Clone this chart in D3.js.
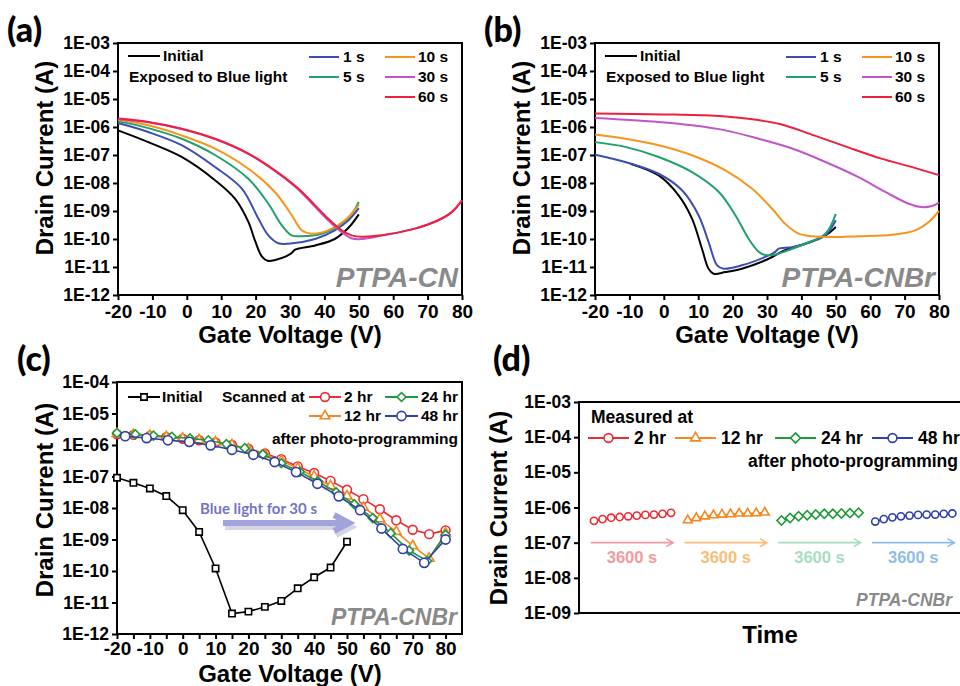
<!DOCTYPE html>
<html lang="en">
<head>
  <meta charset="UTF-8">
  <title>Drain current panels</title>
  <script src="https://cdn.jsdelivr.net/npm/d3@7"></script>
  <style>
    body{ margin:0; background:#fff; }
    text{ font-family:"Liberation Sans", Arial, sans-serif; font-weight:bold; }
    .axis text{ font-size:17.5px; font-family:"Liberation Sans", Arial, sans-serif; font-weight:bold; fill:#000; }
    .xaxis text{ font-size:19px; }
    .axis line{ stroke:#000; stroke-width:2; }
    .lab{ font-family:Lato, "Open Sans", sans-serif; font-size:34px; font-weight:900; }
    .title{ font-size:24px; }
    .leg{ font-size:15.5px; }
    .tag{ font-style:italic; fill:#8a8a8a; }
  </style>
</head>
<body>
  <script>
    // gate sweep data, [gate voltage, log10 drain current]
    const aInitial = [[-20,-6.12],[-11.2,-6.54],[-1.5,-7.07],[8.2,-7.9],[14,-8.56],[17.9,-9.39],[19.8,-10.05],[21.8,-10.62],[23.5,-10.78],[27.6,-10.68],[30.5,-10.5],[31.5,-10.38],[37.3,-10.23],[43,-10.0],[47,-9.6],[50,-9.12]];
    const a1s = [[-20,-5.86],[-11.2,-6.18],[-1.5,-6.65],[8.2,-7.43],[16,-8.2],[20.8,-9.27],[23.7,-9.87],[26.6,-10.15],[29.5,-10.17],[37.3,-10.0],[43,-9.69],[47,-9.33],[50,-8.9]];
    const a5s = [[-20,-5.79],[-11.2,-6.04],[-1.5,-6.42],[8.2,-7.0],[17.9,-7.85],[23.7,-8.74],[27.6,-9.51],[30.5,-9.87],[33.4,-9.9],[39.2,-9.81],[45,-9.45],[48,-9.1],[50,-8.68]];
    const a10s = [[-20,-5.74],[-11.2,-5.94],[-1.5,-6.3],[8.2,-6.77],[17.9,-7.49],[25.6,-8.32],[30.5,-9.15],[33.4,-9.69],[36.3,-9.81],[41.1,-9.69],[46,-9.33],[50,-8.78]];
    const a30s = [[-20,-5.72],[-11.2,-5.83],[-1.5,-6.07],[8.2,-6.43],[17.9,-6.96],[25.6,-7.57],[32.4,-8.23],[37.3,-8.85],[41.1,-9.33],[45,-9.75],[48,-9.98],[51,-10.0],[56.6,-9.88],[66.3,-9.63],[73.1,-9.33],[77,-9.04],[80,-8.62]];
    const a60s = [[-20,-5.70],[-11.2,-5.82],[-1.5,-6.06],[8.2,-6.42],[17.9,-6.95],[25.6,-7.55],[32.4,-8.2],[37.3,-8.8],[41.1,-9.27],[45,-9.69],[47.9,-9.87],[50.8,-9.92],[56.6,-9.87],[66.3,-9.63],[73.1,-9.33],[77,-9.04],[80,-8.62]];

    const bInitial = [[-9.7,-7.31],[-1.5,-7.73],[4.3,-8.44],[8.2,-9.27],[11.1,-10.35],[13,-11.06],[14.5,-11.24],[17.9,-11.18],[22.7,-11.06],[29.5,-10.76],[35.3,-10.4],[41.1,-10.17],[47,-9.87],[50,-9.57]];
    const b1s = [[-20,-6.99],[-11.2,-7.25],[-1.5,-7.67],[5.3,-8.26],[10.1,-9.15],[13,-10.1],[15.5,-10.94],[17.4,-11.06],[22.7,-10.94],[29.5,-10.64],[32.4,-10.46],[33.3,-10.35],[37.3,-10.29],[43,-10.1],[47,-9.87],[50,-9.33]];
    const b5s = [[-20,-6.54],[-11.2,-6.71],[-1.5,-7.07],[8.2,-7.61],[16,-8.32],[20.8,-9.15],[24.7,-10.0],[27.6,-10.46],[29.5,-10.57],[31.9,-10.57],[35.3,-10.44],[41.1,-10.17],[47,-9.81],[50,-9.1]];
    const b10s = [[-20,-6.27],[-11.2,-6.42],[-1.5,-6.65],[8.2,-7.01],[17.9,-7.55],[25.6,-8.2],[31.5,-8.92],[35.3,-9.46],[39.2,-9.81],[43,-9.9],[48.9,-9.93],[56.6,-9.9],[66.3,-9.85],[73.1,-9.69],[77,-9.39],[80,-9.0]];
    const b30s = [[-20,-5.68],[-1.5,-5.82],[8.2,-5.94],[17.9,-6.12],[27.6,-6.42],[37.3,-6.77],[47,-7.25],[56.6,-7.79],[64.4,-8.32],[71.2,-8.74],[75,-8.86],[78,-8.82],[80,-8.7]];
    const b60s = [[-20,-5.52],[0,-5.55],[14.7,-5.6],[24,-5.7],[34,-5.9],[43.7,-6.3],[53.4,-6.72],[63,-7.12],[72.7,-7.45],[80,-7.72]];

    // retention sweeps (c)
    const cInitialV = [-20,-15,-10,-5,0,5,10,15,20,25,30,35,40,45,50];
    const cInitial = [-7.04,-7.2,-7.38,-7.62,-8.07,-8.76,-9.92,-11.35,-11.29,-11.14,-10.95,-10.55,-10.2,-9.89,-9.07];
    const cStep5V = [-20,-15,-10,-5,0,5,10,15,20,25,30,35,40,45,50,55,60,65,70,75,80];
    const c2hr = [-5.66,-5.68,-5.71,-5.75,-5.8,-5.85,-5.92,-6.0,-6.12,-6.27,-6.45,-6.68,-6.89,-7.14,-7.42,-7.72,-8.04,-8.39,-8.69,-8.83,-8.71];
    const c12hr = [-5.64,-5.67,-5.7,-5.74,-5.79,-5.84,-5.91,-6.0,-6.13,-6.3,-6.5,-6.74,-7.0,-7.3,-7.62,-7.98,-8.35,-8.75,-9.2,-9.6,-8.8];
    const c24hrV = [-20,-14.4,-8.9,-3.3,2.2,7.8,13.3,18.9,24.4,30,35.6,41.1,46.7,52.2,57.8,63.3,68.9,74.4,80];
    const c24hr = [-5.62,-5.66,-5.7,-5.74,-5.79,-5.85,-5.97,-6.1,-6.3,-6.58,-6.85,-7.15,-7.5,-7.88,-8.32,-8.8,-9.35,-9.68,-8.85];
    const c48hrV = [-17.5,-11,-4.5,2,8.5,15,21.5,28,34.5,41,47.5,54,60.5,67,73.5,80];
    const c48hr = [-5.72,-5.78,-5.85,-5.9,-6.01,-6.15,-6.31,-6.54,-6.86,-7.23,-7.63,-8.07,-8.65,-9.3,-9.74,-9.0];

    // retention in time (d): seconds within each 3600 s window, and where each window sits
    const dTime = [0,400,800,1200,1600,2000,2400,2800,3200,3600];
    const dWindowStart = [700,5080,9460,13840];
    const d2hr = [-6.38,-6.33,-6.29,-6.27,-6.25,-6.23,-6.21,-6.2,-6.18,-6.15];
    const d12hr = [-6.36,-6.3,-6.25,-6.22,-6.2,-6.19,-6.17,-6.17,-6.16,-6.14];
    const d24hr = [-6.37,-6.3,-6.25,-6.22,-6.2,-6.18,-6.18,-6.17,-6.16,-6.15];
    const d48hr = [-6.4,-6.33,-6.28,-6.25,-6.23,-6.21,-6.2,-6.2,-6.18,-6.17];

    const svg = d3.select('body').append('svg').attr('width', 960).attr('height', 686);

    const fmtE = d => {
      const e = Math.round(Math.log10(d));
      return '1E' + (e < 0 ? '-' : '+') + String(Math.abs(e)).padStart(2, '0');
    };

    function panel(p) {
      const x = d3.scaleLinear().domain(p.xDomain).range([p.l, p.r]);
      const y = d3.scaleLog().domain([10 ** p.yExp[0], 10 ** p.yExp[1]]).range([p.b, p.t]);
      const g = svg.append('g');
      g.append('g').attr('class', 'axis').attr('transform', `translate(${p.l},0)`)
        .call(d3.axisLeft(y).tickValues(d3.range(p.yExp[0], p.yExp[1] + 1).map(e => 10 ** e))
          .tickFormat(fmtE).tickSize(5).tickPadding(3))
        .call(a => a.select('.domain').remove());
      if (p.xTicks) {
        g.append('g').attr('class', 'axis xaxis').attr('transform', `translate(0,${p.b})`)
          .call(d3.axisBottom(x).tickValues(p.xTicks).tickFormat(d => d % 10 === 0 ? d : '')
            .tickSize(5).tickPadding(p.xPad || 5))
          .call(a => a.select('.domain').remove());
      }
      g.append('rect').attr('x', p.l).attr('y', p.t)
        .attr('width', p.r - p.l).attr('height', p.b - p.t)
        .attr('fill', 'none').attr('stroke', '#000').attr('stroke-width', 2);
      return { g, x, y };
    }

    function marker(g, type, cx, cy, color, s) {
      if (type === 'circle') {
        return g.append('circle').attr('cx', cx).attr('cy', cy).attr('r', s)
          .attr('fill', '#fff').attr('stroke', color).attr('stroke-width', 1.6);
      }
      const sym = type === 'square' || type === 'diamond' ? d3.symbolSquare : d3.symbolTriangle;
      const rot = type === 'diamond' ? 45 : 0;
      return g.append('path').attr('d', d3.symbol().type(sym).size(s)())
        .attr('transform', `translate(${cx},${cy}) rotate(${rot})`)
        .attr('fill', '#fff').attr('stroke', color).attr('stroke-width', 1.6);
    }

    function legendLine(g, x1, x2, yy, color, text, tx, mtype, msize) {
      g.append('line').attr('x1', x1).attr('x2', x2).attr('y1', yy).attr('y2', yy)
        .attr('stroke', color).attr('stroke-width', 2);
      if (mtype) marker(g, mtype, (x1 + x2) / 2, yy, color, msize);
      g.append('text').attr('class', 'leg').attr('x', tx).attr('y', yy).attr('dy', '0.35em').text(text);
    }

    // ---------- (a) and (b) ----------
    const sweepColors = ['#000000', '#3d4db5', '#1fa06c', '#f7941d', '#c154c6', '#ee1f3f'];
    const sweepNames = ['Initial', '1 s', '5 s', '10 s', '30 s', '60 s'];

    function sweepPanel(l, r, series, tag, label, labX) {
      const P = panel({ l, r, t: 43, b: 295, xDomain: [-20, 80], yExp: [-12, -3], xTicks: d3.range(-20, 81, 10) });
      const line = d3.line().x(d => P.x(d[0])).y(d => P.y(10 ** d[1])).curve(d3.curveCatmullRom.alpha(0.5));
      series.forEach((s, i) => {
        P.g.append('path').attr('d', line(s)).attr('fill', 'none')
          .attr('stroke', sweepColors[i]).attr('stroke-width', 2);
      });
      const lx = l + 10;
      legendLine(P.g, lx, lx + 32, 56, sweepColors[0], sweepNames[0], lx + 35);
      P.g.append('text').attr('class', 'leg').attr('x', lx + 1).attr('y', 77).attr('dy', '0.35em').text('Exposed to Blue light');
      const c1 = l + 191, c2 = l + 267;
      legendLine(P.g, c1, c1 + 30, 57, sweepColors[1], sweepNames[1], c1 + 34);
      legendLine(P.g, c1, c1 + 30, 77, sweepColors[2], sweepNames[2], c1 + 34);
      legendLine(P.g, c2, c2 + 30, 57, sweepColors[3], sweepNames[3], c2 + 33);
      legendLine(P.g, c2, c2 + 30, 77, sweepColors[4], sweepNames[4], c2 + 33);
      legendLine(P.g, c2, c2 + 30, 97, sweepColors[5], sweepNames[5], c2 + 33);
      P.g.append('text').attr('class', 'tag').attr('x', r - 4).attr('y', 287)
        .attr('text-anchor', 'end').style('font-size', '28px').text(tag);
      svg.append('text').attr('class', 'title').attr('x', (l + r) / 2).attr('y', 343)
        .attr('text-anchor', 'middle').text('Gate Voltage (V)');
      svg.append('text').attr('class', 'title')
        .attr('transform', `translate(${l - 65},158) rotate(-90)`)
        .attr('text-anchor', 'middle').text('Drain Current (A)');
      svg.append('text').attr('class', 'lab').attr('x', labX).attr('y', 42).text(label);
    }

    sweepPanel(118, 462, [aInitial, a1s, a5s, a10s, a30s, a60s], 'PTPA-CN', '(a)', 7);
    sweepPanel(595, 939, [bInitial, b1s, b5s, b10s, b30s, b60s], 'PTPA-CNBr', '(b)', 484);

    // ---------- (c) ----------
    const C = panel({ l: 117, r: 462, t: 382, b: 634, xDomain: [-20, 85], yExp: [-12, -4], xTicks: d3.range(-20, 81, 5), xPad: 3 });
    const cLine = d3.line().x(d => C.x(d[0])).y(d => C.y(10 ** d[1]));
    const cSeries = [
      { v: cInitialV, val: cInitial, color: '#000000', type: 'square', size: 40 },
      { v: cStep5V, val: c2hr, color: '#ec2b34', type: 'circle', size: 4.4 },
      { v: cStep5V, val: c12hr, color: '#f4871f', type: 'triangle', size: 40 },
      { v: c24hrV, val: c24hr, color: '#1f9a3a', type: 'diamond', size: 40 },
      { v: c48hrV, val: c48hr, color: '#3140a8', type: 'circle', size: 4.6 }
    ];
    cSeries.forEach(s => {
      const pts = s.v.map((v, i) => [v, s.val[i]]);
      C.g.append('path').attr('d', cLine(pts)).attr('fill', 'none').attr('stroke', s.color).attr('stroke-width', 1.6);
      pts.forEach(d => marker(C.g, s.type, C.x(d[0]), C.y(10 ** d[1]), s.color, s.size));
    });
    legendLine(C.g, 128, 160, 397, '#000000', 'Initial', 162, 'square', 40);
    C.g.append('text').attr('class', 'leg').attr('x', 222).attr('y', 397).attr('dy', '0.35em').text('Scanned at');
    legendLine(C.g, 309, 341, 397, '#ec2b34', '2 hr', 344, 'circle', 4.4);
    legendLine(C.g, 385, 418, 397, '#1f9a3a', '24 hr', 421, 'diamond', 40);
    legendLine(C.g, 309, 341, 416, '#f4871f', '12 hr', 344, 'triangle', 40);
    legendLine(C.g, 385, 418, 416, '#3140a8', '48 hr', 421, 'circle', 4.6);
    C.g.append('text').attr('class', 'leg').attr('x', 458).attr('y', 439).attr('dy', '0.35em')
      .attr('text-anchor', 'end').text('after photo-programming');
    // blue light arrow
    C.g.append('path').attr('d', 'M225,527H349M336,519L351,527L336,535')
      .attr('fill', 'none').attr('stroke', '#d6d6e2').attr('stroke-width', 6);
    C.g.append('path').attr('d', 'M223,523H347M334,515L349,523L334,531')
      .attr('fill', 'none').attr('stroke', '#a3a3dc').attr('stroke-width', 6);
    C.g.append('text').attr('x', 200).attr('y', 514)
      .style('font-family', 'Lato, sans-serif').style('font-size', '15px').style('fill', '#7474c4')
      .text('Blue light for 30 s');
    C.g.append('text').attr('class', 'tag').attr('x', 457).attr('y', 625)
      .attr('text-anchor', 'end').style('font-size', '23px').text('PTPA-CNBr');
    svg.append('text').attr('class', 'title').attr('x', 290).attr('y', 682).attr('text-anchor', 'middle').text('Gate Voltage (V)');
    svg.append('text').attr('class', 'title').attr('transform', 'translate(53,500) rotate(-90)')
      .attr('text-anchor', 'middle').text('Drain Current (A)');
    svg.append('text').attr('class', 'lab').attr('x', 17).attr('y', 371).text('(c)');

    // ---------- (d) ----------
    const D = panel({ l: 579, r: 975, t: 402, b: 613, xDomain: [0, 18500], yExp: [-9, -3] });
    const dSeries = [
      { val: d2hr, color: '#ec2b34', light: '#f29aa0', type: 'circle', size: 3.6 },
      { val: d12hr, color: '#f4871f', light: '#f9bd77', type: 'triangle', size: 34 },
      { val: d24hr, color: '#1f9a3a', light: '#a9dcbf', type: 'diamond', size: 42 },
      { val: d48hr, color: '#3140a8', light: '#8fbde8', type: 'circle', size: 3.6 }
    ];
    const dLine = d3.line().x(d => D.x(d[0])).y(d => D.y(10 ** d[1]));
    dSeries.forEach((s, k) => {
      const t0 = dWindowStart[k];
      const pts = dTime.map((t, i) => [t0 + t, s.val[i]]);
      D.g.append('path').attr('d', dLine(pts)).attr('fill', 'none').attr('stroke', s.color).attr('stroke-width', 1.6);
      pts.forEach(d => marker(D.g, s.type, D.x(d[0]), D.y(10 ** d[1]), s.color, s.size));
      const ax1 = D.x(t0 - 150), ax2 = D.x(t0 + dTime[dTime.length - 1] + 100), ay = D.y(1e-7);
      D.g.append('path').attr('d', `M${ax1},${ay}H${ax2}M${ax2 - 7},${ay - 4}L${ax2},${ay}L${ax2 - 7},${ay + 4}`)
        .attr('fill', 'none').attr('stroke', s.light).attr('stroke-width', 1.6);
      D.g.append('text').attr('x', (ax1 + ax2) / 2).attr('y', ay + 20).attr('text-anchor', 'middle')
        .style('font-size', '16.5px').style('fill', s.light).text('3600 s');
    });
    D.g.append('text').style('font-size', '17.5px').attr('x', 591).attr('y', 417).attr('dy', '0.35em').text('Measured at');
    const dNames = ['2 hr', '12 hr', '24 hr', '48 hr'];
    const dLegX = [588, 675, 775, 872];
    dSeries.forEach((s, k) => {
      const x1 = dLegX[k];
      D.g.append('line').attr('x1', x1).attr('x2', x1 + 41).attr('y1', 438).attr('y2', 438)
        .attr('stroke', s.color).attr('stroke-width', 2);
      marker(D.g, s.type, x1 + 20.5, 438, s.color, s.type === 'circle' ? 4.4 : s.size + 8);
      D.g.append('text').style('font-size', '17.5px').attr('x', x1 + 46).attr('y', 438).attr('dy', '0.35em').text(dNames[k]);
    });
    D.g.append('text').style('font-size', '17.5px').attr('x', 748).attr('y', 461).attr('dy', '0.35em').text('after photo-programming');
    D.g.append('text').attr('class', 'tag').attr('x', 952).attr('y', 606)
      .attr('text-anchor', 'end').style('font-size', '17.5px').text('PTPA-CNBr');
    svg.append('text').attr('class', 'title').attr('x', 770).attr('y', 643).attr('text-anchor', 'middle').text('Time');
    svg.append('text').attr('class', 'title').attr('transform', 'translate(507,508) rotate(-90)')
      .attr('text-anchor', 'middle').text('Drain Current (A)');
    svg.append('text').attr('class', 'lab').attr('x', 493).attr('y', 371).text('(d)');
  </script>
</body>
</html>
